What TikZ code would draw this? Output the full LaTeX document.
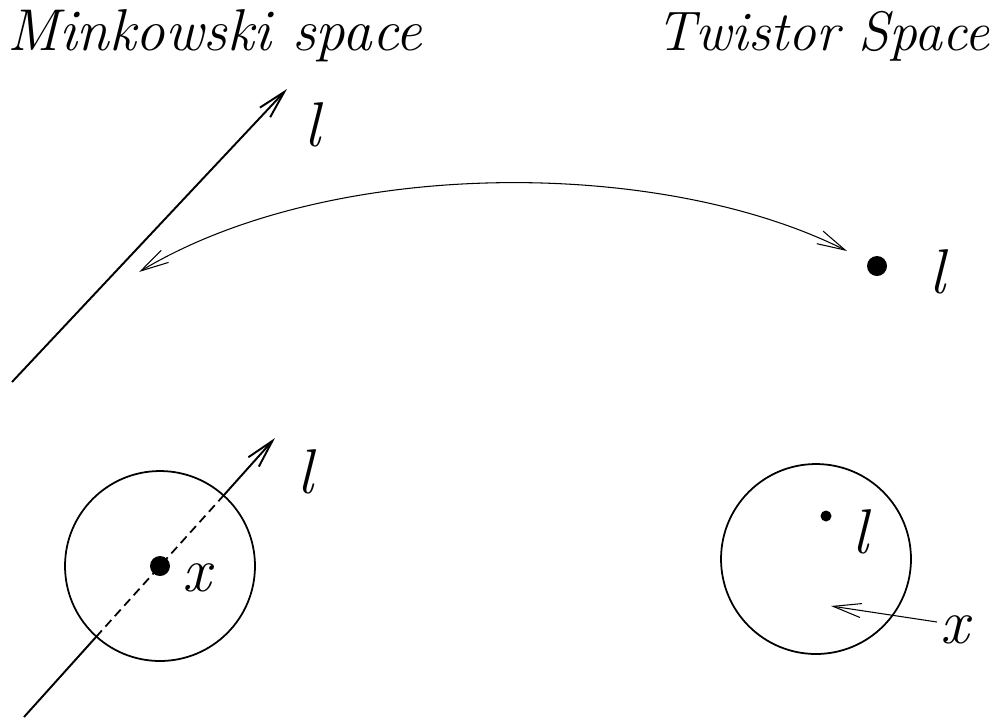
\documentclass[tikz,border=0pt]{standalone}
\usetikzlibrary{arrows.meta, calc}
\tikzset{
  heading/.style = {inner sep=0pt},
  lbl/.style = {inner sep=0pt, anchor=base, font=\fontsize{36}{44}\selectfont\itshape},
  bigdot/.style = {circle, fill=black, inner sep=0pt, minimum size=0.4cm},
  smalldot/.style = {circle, fill=black, inner sep=0pt, minimum size=0.22cm},
  ring/.style = {circle, draw, line width=1pt, inner sep=0pt, minimum size=3.8cm},
  worldline/.style = {line width=1.1pt},
  arrow/.style = {line width=1.1pt, -{Straight Barb[length=16pt, width=8pt]}},
  thinarrow/.style = {line width=0.6pt, -{Straight Barb[length=16pt, width=8pt]}},
}
\begin{document}
\begin{tikzpicture}[x=0.02cm, y=-0.02cm]
  \useasboundingbox (0,0) rectangle (996,721);

  % Headings
  \node[heading, anchor=base west, font=\fontsize{33.6}{40}\selectfont\itshape] (mink) at (7,50) {Minkowski space};
  \node[heading, anchor=base east, font=\fontsize{31.7}{38}\selectfont\itshape] (twist) at (990,50) {Twistor Space};

  % Light ray in Minkowski space
  \coordinate (ra) at (12,382);
  \coordinate (rb) at (287,89);
  \draw[arrow] (ra) -- (rb);
  \node[lbl] (lray) at (312,146) {l};

  % Point in twistor space
  \node[bigdot] (pt) at (877,266) {};
  \node[lbl] (lpt) at (937,293) {l};

  % Correspondence
  \coordinate (cl) at (139,272);
  \coordinate (cr) at (847,251);
  \draw[line width=0.6pt, {Straight Barb[length=16pt, width=8pt]}-{Straight Barb[length=16pt, width=8pt]}]
    (cl) .. controls (330,157) and (660,157) .. (cr);

  % Neighbourhood of x in Minkowski space
  \node[ring] (nx) at (160,566) {};
  \node[bigdot] (x1) at (160,566) {};
  \node[lbl] (xlab) at (197,591) {x};
  \coordinate (sa) at (24,717);
  \coordinate (sb) at (96,637);
  \coordinate (sc) at (224,495);
  \coordinate (sd) at (275,438);
  \draw[worldline] (sa) -- (sb);
  \draw[line width=1pt, dash pattern=on 5pt off 3pt] (sb) -- (sc);
  \draw[arrow] (sc) -- (sd);
  \node[lbl] (lx) at (305,493) {l};

  % Neighbourhood in twistor space
  \node[ring] (nt) at (816,559) {};
  \node[smalldot] (p2) at (826,516) {};
  \node[lbl] (lp2) at (860,553) {l};
  \node[lbl] (xt) at (955,643) {x};
  \coordinate (xa) at (937,622);
  \coordinate (xb) at (831,606);
  \draw[thinarrow] (xa) -- (xb);

\end{tikzpicture}
\end{document}
